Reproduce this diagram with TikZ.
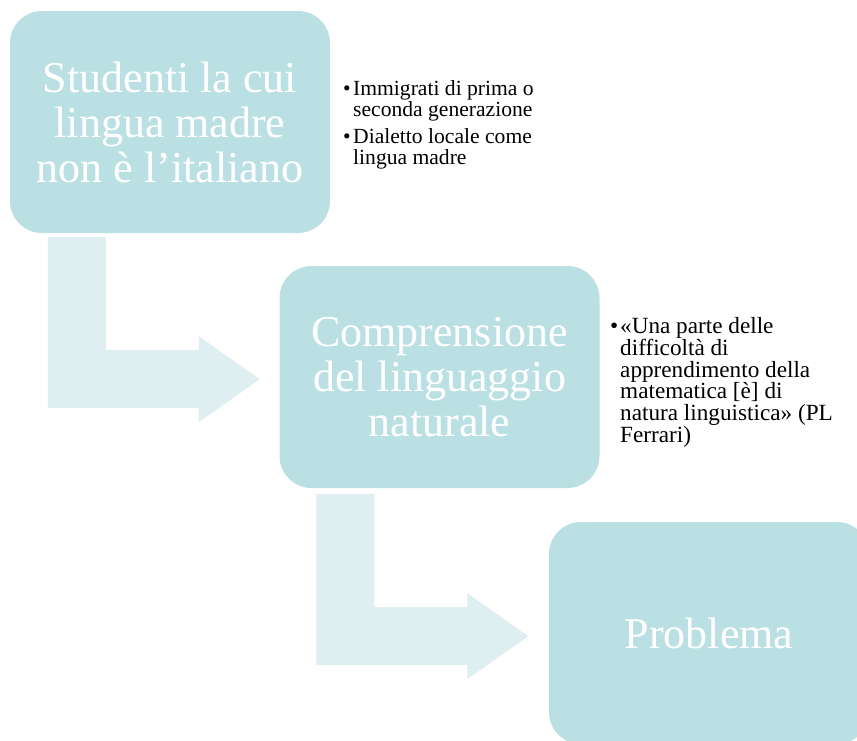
\documentclass[tikz,border=0pt]{standalone}
\usepackage{fontspec}
\setmainfont{Liberation Serif}
\usetikzlibrary{calc}
\definecolor{boxc}{HTML}{BBE0E3}
\definecolor{arrc}{HTML}{DEEEF1}
\newcommand{\bul}{\llap{\makebox[10pt][l]{•}}}
\begin{document}
\begin{tikzpicture}[x=1pt,y=-1pt,
  stepbox/.style={fill=boxc, draw=none, rounded corners=32pt,
    minimum width=320pt, minimum height=222pt, inner sep=0pt,
    text=white, align=center, font=\fontsize{44}{45}\selectfont},
  bullets/.style={inner sep=0pt, anchor=north west, align=left, text=black},
  pics/bentarrow/.style={code={
    \fill[arrc] (0,0) -- (58,0) -- (58,113) -- (151,113) -- (151,99)
      -- (212,142) -- (151,185) -- (151,171) -- (0,171) -- cycle;}}
]
\useasboundingbox (0,0) rectangle (857,740);
\node[stepbox, yshift=1pt] (b1) at (170,123) {Studenti la cui\\lingua madre\\non è l’italiano};
\node[stepbox] (b2) at (439.5,377) {Comprensione\\del linguaggio\\naturale};
\node[stepbox] (b3) at (709,633) {Problema};
\pic at ($(b1.south west)+(38,4)$) {bentarrow};
\pic at ($(b2.south west)+(37,6)$) {bentarrow};
\node[bullets, font=\fontsize{21.6}{21}\selectfont] (l1) at (353,80)
  {\bul Immigrati di prima o\\seconda generazione\\[6pt]\bul Dialetto locale come\\lingua madre};
\node[bullets, font=\fontsize{23.2}{21.7}\selectfont] (l2) at (620,317.5)
  {\bul «Una parte delle\\difficoltà di\\apprendimento della\\matematica [è] di\\natura linguistica» (PL\\Ferrari)};
\end{tikzpicture}
\end{document}
